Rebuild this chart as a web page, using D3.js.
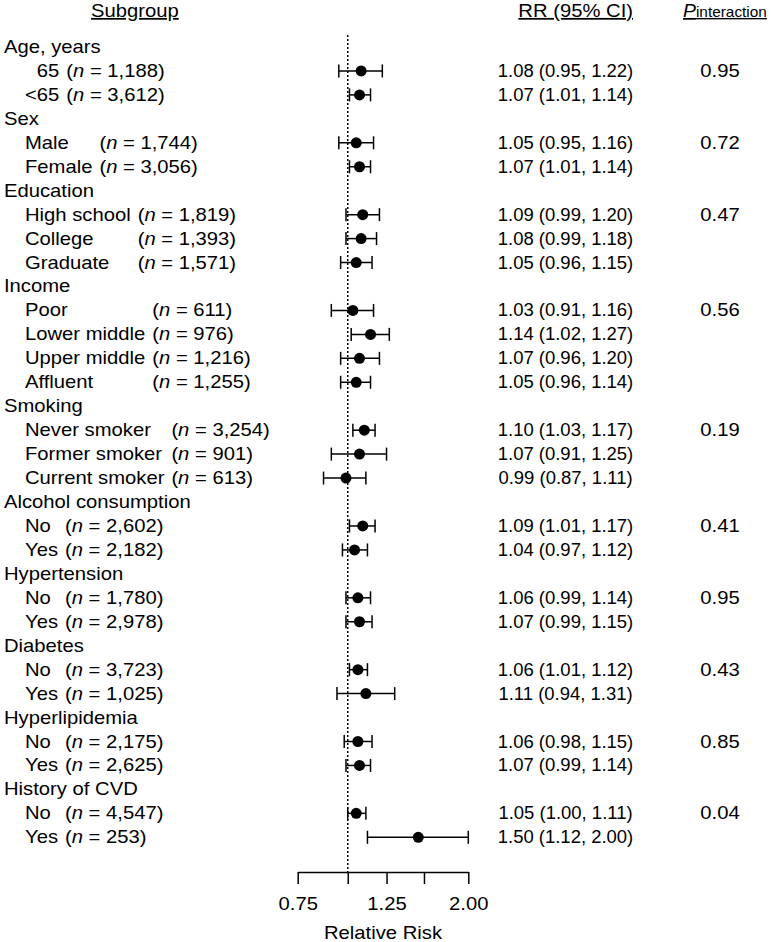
<!DOCTYPE html>
<html>
<head>
<meta charset="utf-8">
<script src="https://cdn.jsdelivr.net/npm/d3@7"></script>
<style>
  body { margin: 0; background: #fff; }
  svg text { font-family: "Liberation Sans", Arial, sans-serif; font-size: 17.6px; fill: #000; }
</style>
</head>
<body>
<div id="chart"></div>
<script>
// groups and their interaction p-values
const groups = ["Age, years", "Sex", "Education", "Income", "Smoking", "Alcohol consumption",
  "Hypertension", "Diabetes", "Hyperlipidemia", "History of CVD"];
const pInteraction = ["0.95", "0.72", "0.47", "0.56", "0.19", "0.41", "0.95", "0.43", "0.85", "0.04"];

// subgroup rows
const subgroupGroup = [0, 0, 1, 1, 2, 2, 2, 3, 3, 3, 3, 4, 4, 4, 5, 5, 6, 6, 7, 7, 8, 8, 9, 9];
const subgroups = ["65", "<65", "Male", "Female", "High school", "College", "Graduate",
  "Poor", "Lower middle", "Upper middle", "Affluent", "Never smoker", "Former smoker", "Current smoker",
  "No", "Yes", "No", "Yes", "No", "Yes", "No", "Yes", "No", "Yes"];
const nValues = [1188, 3612, 1744, 3056, 1819, 1393, 1571, 611, 976, 1216, 1255, 3254, 901, 613,
  2602, 2182, 1780, 2978, 3723, 1025, 2175, 2625, 4547, 253];
const rr = [1.08, 1.07, 1.05, 1.07, 1.09, 1.08, 1.05, 1.03, 1.14, 1.07, 1.05, 1.10, 1.07, 0.99,
  1.09, 1.04, 1.06, 1.07, 1.06, 1.11, 1.06, 1.07, 1.05, 1.50];
const ciLow = [0.95, 1.01, 0.95, 1.01, 0.99, 0.99, 0.96, 0.91, 1.02, 0.96, 0.96, 1.03, 0.91, 0.87,
  1.01, 0.97, 0.99, 0.99, 1.01, 0.94, 0.98, 0.99, 1.00, 1.12];
const ciHigh = [1.22, 1.14, 1.16, 1.14, 1.20, 1.18, 1.15, 1.16, 1.27, 1.20, 1.14, 1.17, 1.25, 1.11,
  1.17, 1.12, 1.14, 1.15, 1.12, 1.31, 1.15, 1.14, 1.11, 2.00];

// axis ticks
const axisTicks = [0.75, 1, 1.25, 1.55, 2];
const labeledTicks = [0.75, 1.25, 2];
const rightAlignedGroups = ["Age, years"];

const width = 771, height = 942;
const SX = 1.15;    // the source text is wider than Arial
const SX_RR = 1.05; // RR column is a bit narrower
const fmt2 = d3.format(".2f");
const fmtN = d3.format(",");

const svg = d3.select("#chart").append("svg")
  .attr("width", width)
  .attr("height", height);

// one line per group header, then its subgroups
const lines = [];
groups.forEach(function (g, gi) {
  lines.push({ type: "group", gi: gi });
  subgroups.forEach(function (s, i) {
    if (subgroupGroup[i] === gi) lines.push({ type: "row", gi: gi, i: i });
  });
});

const y = d3.scalePoint().domain(d3.range(lines.length)).range([47, 837.3]);
const x = d3.scaleLog().domain([0.75, 2]).range([297.7, 468.3]);
const axisY = 872;

function addText(parent, tx, ty, anchor, sx) {
  return parent.append("text")
    .attr("transform", `translate(${tx},${ty}) scale(${sx || SX},1)`)
    .attr("text-anchor", anchor || "start");
}

// column headers
addText(svg, 91, 17).style("text-decoration", "underline").text("Subgroup");
addText(svg, 633, 17, "end").style("text-decoration", "underline").text("RR (95% CI)");
const ph = addText(svg, 683, 17, "start", 1.1).style("text-decoration", "underline");
ph.append("tspan").style("font-style", "italic").text("P");
ph.append("tspan").style("font-size", "14px").text("interaction");

// reference line at RR = 1
svg.append("line")
  .attr("x1", x(1)).attr("x2", x(1))
  .attr("y1", 35).attr("y2", axisY)
  .attr("stroke", "#000")
  .attr("stroke-width", 1.5)
  .attr("stroke-dasharray", "2,2");

const labels = svg.append("g");

lines.forEach(function (d, li) {
  if (d.type === "group") addText(labels, 4, y(li) + 6).text(groups[d.gi]);
});

// subgroup names, n column aligned per group
groups.forEach(function (g, gi) {
  const rows = lines.map((d, li) => ({ d, li })).filter(o => o.d.type === "row" && o.d.gi === gi);
  const right = rightAlignedGroups.includes(g);
  const nameEls = rows.map(o => addText(labels, 25, y(o.li) + 6).text(subgroups[o.d.i]));
  const maxW = d3.max(nameEls, el => el.node().getComputedTextLength()) * SX;
  if (right) {
    nameEls.forEach(function (el, k) {
      const w = el.node().getComputedTextLength() * SX;
      el.attr("transform", `translate(${25 + maxW - w},${y(rows[k].li) + 6}) scale(${SX},1)`);
    });
  }
  const nX = 25 + maxW + 7;
  rows.forEach(function (o) {
    const t = addText(labels, nX, y(o.li) + 6);
    t.append("tspan").text("(");
    t.append("tspan").style("font-style", "italic").text("n");
    t.append("tspan").text(" = " + fmtN(nValues[o.d.i]) + ")");

    addText(labels, 565.5, y(o.li) + 6, "middle", SX_RR)
      .text(`${fmt2(rr[o.d.i])} (${fmt2(ciLow[o.d.i])}, ${fmt2(ciHigh[o.d.i])})`);
  });
  addText(labels, 720, y(rows[0].li) + 6, "middle").text(pInteraction[gi]);
});

// error bars and points
const rowLines = lines.map((d, li) => Object.assign({ li: li }, d)).filter(d => d.type === "row");
const marks = svg.append("g");

marks.selectAll("line.ci")
  .data(rowLines)
  .join("line")
  .attr("class", "ci")
  .attr("x1", d => x(ciLow[d.i]))
  .attr("x2", d => x(ciHigh[d.i]))
  .attr("y1", d => y(d.li))
  .attr("y2", d => y(d.li))
  .attr("stroke", "#000")
  .attr("stroke-width", 1.5);

["lo", "hi"].forEach(function (side) {
  marks.selectAll("line.cap-" + side)
    .data(rowLines)
    .join("line")
    .attr("class", "cap-" + side)
    .attr("x1", d => x(side === "lo" ? ciLow[d.i] : ciHigh[d.i]))
    .attr("x2", d => x(side === "lo" ? ciLow[d.i] : ciHigh[d.i]))
    .attr("y1", d => y(d.li) - 6.5)
    .attr("y2", d => y(d.li) + 6.5)
    .attr("stroke", "#000")
    .attr("stroke-width", 1.5);
});

marks.selectAll("circle")
  .data(rowLines)
  .join("circle")
  .attr("cx", d => x(rr[d.i]))
  .attr("cy", d => y(d.li))
  .attr("r", 5.5)
  .attr("fill", "#000");

// x axis
const axis = d3.axisBottom(x)
  .tickValues(axisTicks)
  .tickSize(12)
  .tickSizeOuter(0)
  .tickPadding(14)
  .tickFormat(d => labeledTicks.includes(d) ? fmt2(d) : "");

const gx = svg.append("g")
  .attr("transform", `translate(0,${axisY})`)
  .call(axis);
gx.attr("font-size", null).attr("font-family", null);
gx.selectAll("path, line").attr("stroke", "#000").attr("stroke-width", 1.5);
gx.selectAll("text").attr("transform", `scale(${SX},1)`).attr("fill", "#000");

addText(svg, 383, 939, "middle").text("Relative Risk");
</script>
</body>
</html>
